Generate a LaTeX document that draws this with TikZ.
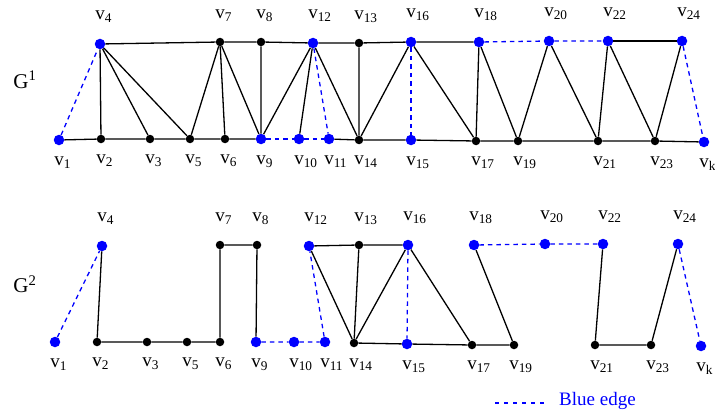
\documentclass[tikz,border=0pt]{standalone}
\usepackage{fontspec}
\setmainfont{Liberation Serif}
\usetikzlibrary{positioning}

\newcommand{\vx}[1]{v\rlap{\textsubscript{#1}}}

\begin{document}
\begin{tikzpicture}[x=1pt, y=-1pt]
  \colorlet{bluecol}{blue}

  \tikzset{
    bdot/.style={circle, fill=black, inner sep=0pt, minimum size=8.5pt},
    udot/.style={circle, fill=bluecol, inner sep=0pt, minimum size=10.5pt},
    lbl/.style={font=\fontsize{19}{21}\selectfont, inner sep=1pt},
    tl/.style={label={[lbl, yshift=15pt]above:\vx{#1}}},
    bl/.style={label={[lbl, yshift=-10pt]below:\vx{#1}}},
    edge/.style={line width=1.3pt, black},
    bedge/.style={line width=1.3pt, bluecol, dash pattern=on 4.5pt off 4pt},
    glabel/.style={font=\fontsize{21}{23}\selectfont, inner sep=0pt}
  }

  \useasboundingbox (0,0) rectangle (715,412);

  % G^1
  \node[glabel] (g1) at (25,80) {G\textsuperscript{1}};

  \node[udot, tl=4] (a4) at (100,44) {};
  \node[bdot, tl=7] (a7) at (220,42) {};
  \node[bdot, tl=8] (a8) at (261,42) {};
  \node[udot, tl=12] (a12) at (313,43) {};
  \node[bdot, tl=13] (a13) at (359,43) {};
  \node[udot, tl=16] (a16) at (411,42) {};
  \node[udot, tl=18] (a18) at (479,42) {};
  \node[udot, tl=20] (a20) at (549,41) {};
  \node[udot, tl=22] (a22) at (608,41) {};
  \node[udot, tl=24] (a24) at (682,41) {};

  \node[udot, bl=1] (a1) at (59,140) {};
  \node[bdot, bl=2] (a2) at (101,139) {};
  \node[bdot, bl=3] (a3) at (150,139) {};
  \node[bdot, bl=5] (a5) at (190,139) {};
  \node[bdot, bl=6] (a6) at (225,139) {};
  \node[udot, bl=9] (a9) at (261,139) {};
  \node[udot, bl=10] (a10) at (299,139) {};
  \node[udot, bl=11] (a11) at (329,139) {};
  \node[bdot, bl=14] (a14) at (359,140) {};
  \node[udot, bl=15] (a15) at (411,140) {};
  \node[bdot, bl=17] (a17) at (476,141) {};
  \node[bdot, bl=19] (a19) at (518,141) {};
  \node[bdot, bl=21] (a21) at (598,141) {};
  \node[bdot, bl=23] (a23) at (655,141) {};
  \node[udot, bl=k] (ak) at (704,142) {};

  \draw[edge] (a4) -- (a7) -- (a8) -- (a12) -- (a13) -- (a16) -- (a18);
  \draw[edge] (a22) -- (a24);
  \draw[edge] (a1) -- (a2) -- (a3) -- (a5) -- (a6) -- (a9);
  \draw[edge] (a11) -- (a14) -- (a15) -- (a17) -- (a19) -- (a21) -- (a23) -- (ak);
  \draw[edge] (a4) -- (a2) (a4) -- (a3) (a4) -- (a5)
    (a7) -- (a5) (a7) -- (a6) (a7) -- (a9) (a8) -- (a9)
    (a12) -- (a9) (a12) -- (a10) (a12) -- (a14) (a13) -- (a14)
    (a16) -- (a14) (a16) -- (a17) (a18) -- (a17) (a18) -- (a19)
    (a20) -- (a19) (a20) -- (a21) (a22) -- (a21) (a22) -- (a23) (a24) -- (a23);
  \draw[bedge] (a1) -- (a4);
  \draw[bedge] (a9) -- (a10) -- (a11);
  \draw[bedge] (a12) -- (a11);
  \draw[bedge] (a16) -- (a15);
  \draw[bedge] (a18) -- (a20) -- (a22);
  \draw[bedge] (a24) -- (ak);

  % G^2
  \node[glabel] (g2) at (25,284) {G\textsuperscript{2}};

  \node[udot, tl=4] (b4) at (102,246) {};
  \node[bdot, tl=7] (b7) at (220,245) {};
  \node[bdot, tl=8] (b8) at (257,245) {};
  \node[udot, tl=12] (b12) at (309,246) {};
  \node[bdot, tl=13] (b13) at (359,245) {};
  \node[udot, tl=16] (b16) at (408,245) {};
  \node[udot, tl=18] (b18) at (474,245) {};
  \node[udot, tl=20] (b20) at (545,244) {};
  \node[udot, tl=22] (b22) at (603,244) {};
  \node[udot, tl=24] (b24) at (678,244) {};

  \node[udot, bl=1] (b1) at (55,342) {};
  \node[bdot, bl=2] (b2) at (97,342) {};
  \node[bdot, bl=3] (b3) at (147,342) {};
  \node[bdot, bl=5] (b5) at (187,342) {};
  \node[bdot, bl=6] (b6) at (220,342) {};
  \node[udot, bl=9] (b9) at (256,342) {};
  \node[udot, bl=10] (b10) at (294,342) {};
  \node[udot, bl=11] (b11) at (325,342) {};
  \node[bdot, bl=14] (b14) at (354,343) {};
  \node[udot, bl=15] (b15) at (407,344) {};
  \node[bdot, bl=17] (b17) at (472,345) {};
  \node[bdot, bl=19] (b19) at (514,345) {};
  \node[bdot, bl=21] (b21) at (595,345) {};
  \node[bdot, bl=23] (b23) at (651,345) {};
  \node[udot, bl=k] (bk) at (701,346) {};

  \draw[edge] (b4) -- (b2) -- (b3) -- (b5) -- (b6) -- (b7) -- (b8) -- (b9);
  \draw[edge] (b12) -- (b13) -- (b16);
  \draw[edge] (b12) -- (b14) (b13) -- (b14) (b16) -- (b14) (b16) -- (b17);
  \draw[edge] (b14) -- (b15) -- (b17) -- (b19);
  \draw[edge] (b18) -- (b19);
  \draw[edge] (b22) -- (b21) -- (b23) -- (b24);
  \draw[bedge] (b1) -- (b4);
  \draw[bedge] (b9) -- (b10) -- (b11) -- (b12);
  \draw[bedge] (b16) -- (b15);
  \draw[bedge] (b18) -- (b20) -- (b22);
  \draw[bedge] (b24) -- (bk);

  % legend
  \coordinate (lgA) at (495,403);
  \coordinate (lgB) at (547,403);
  \draw[bedge, dash pattern=on 4pt off 5pt] (lgA) -- (lgB);
  \node[anchor=base west, bluecol, font=\fontsize{19}{21}\selectfont, inner sep=0pt] (lgtxt) at (559,405) {Blue edge};
\end{tikzpicture}
\end{document}
